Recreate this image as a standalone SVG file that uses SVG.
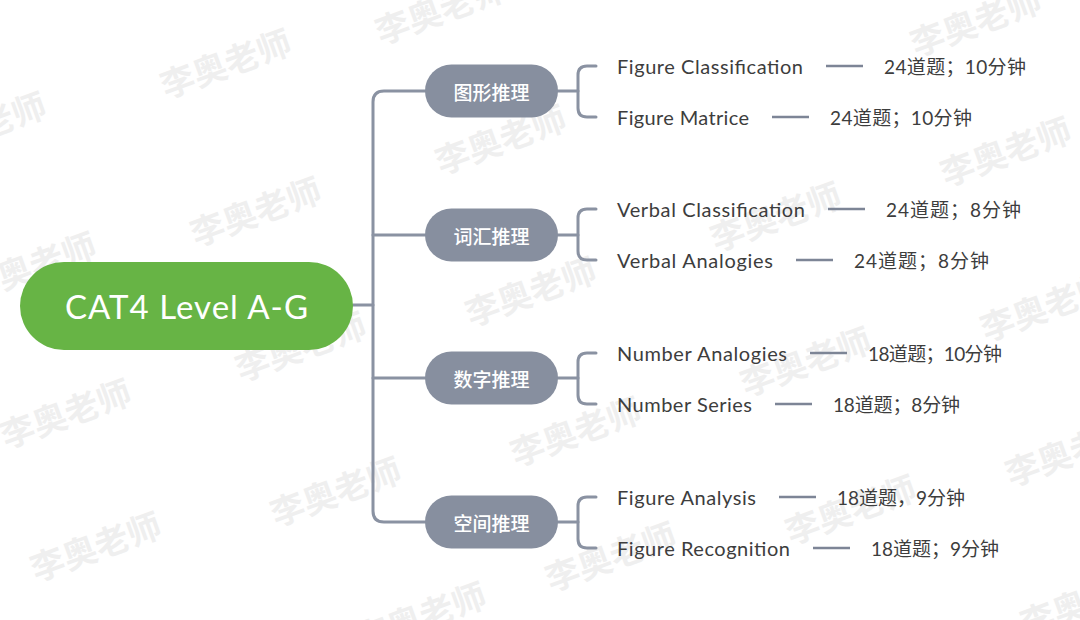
<svg xmlns="http://www.w3.org/2000/svg" width="1080" height="620" viewBox="0 0 1080 620">
<style>
.wm{font-family:"Noto Sans CJK SC",sans-serif;font-size:34px;font-weight:700;fill:#efefef;text-anchor:middle;dominant-baseline:central}
.root{fill:#67b445}
.roottxt{font-family:Lato,"Noto Sans",sans-serif;font-size:33px;fill:#ffffff;dominant-baseline:central}
.br{fill:#878f9f}
.brtxt{font-family:"Noto Sans CJK SC",sans-serif;font-size:19px;font-weight:500;fill:#ffffff;text-anchor:middle;dominant-baseline:central}
.conn{fill:none;stroke:#8a92a2;stroke-width:3;stroke-linecap:round;stroke-linejoin:round}
.dash{stroke:#7d8596;stroke-width:2.5}
.leaf{font-family:Lato,"Noto Sans",sans-serif;font-size:20px;fill:#3d3d3d;dominant-baseline:central}
.val{font-family:Lato,"Noto Sans CJK SC",sans-serif;font-size:19px;fill:#3d3d3d;dominant-baseline:central}
</style>
<rect width="1080" height="620" fill="#ffffff"/>
<g id="watermark">
<text class="wm" transform="translate(440,8) rotate(-20)">李奥老师</text>
<text class="wm" transform="translate(975,20) rotate(-20)">李奥老师</text>
<text class="wm" transform="translate(225,62) rotate(-20)">李奥老师</text>
<text class="wm" transform="translate(-20,125) rotate(-20)">李奥老师</text>
<text class="wm" transform="translate(500,138) rotate(-20)">李奥老师</text>
<text class="wm" transform="translate(1005,150) rotate(-20)">李奥老师</text>
<text class="wm" transform="translate(255,210) rotate(-20)">李奥老师</text>
<text class="wm" transform="translate(30,265) rotate(-20)">李奥老师</text>
<text class="wm" transform="translate(775,215) rotate(-20)">李奥老师</text>
<text class="wm" transform="translate(530,290) rotate(-20)">李奥老师</text>
<text class="wm" transform="translate(1045,305) rotate(-20)">李奥老师</text>
<text class="wm" transform="translate(300,345) rotate(-20)">李奥老师</text>
<text class="wm" transform="translate(65,412) rotate(-20)">李奥老师</text>
<text class="wm" transform="translate(805,360) rotate(-20)">李奥老师</text>
<text class="wm" transform="translate(575,430) rotate(-20)">李奥老师</text>
<text class="wm" transform="translate(1070,450) rotate(-20)">李奥老师</text>
<text class="wm" transform="translate(335,490) rotate(-20)">李奥老师</text>
<text class="wm" transform="translate(850,508) rotate(-20)">李奥老师</text>
<text class="wm" transform="translate(95,545) rotate(-20)">李奥老师</text>
<text class="wm" transform="translate(610,555) rotate(-20)">李奥老师</text>
<text class="wm" transform="translate(420,615) rotate(-20)">李奥老师</text>
<text class="wm" transform="translate(1085,600) rotate(-20)">李奥老师</text>
</g>
<g id="connectors">
<path class="conn" d="M353,305 H373"/>
<path class="conn" d="M425,91 H384 Q373,91 373,102 V511 Q373,522 384,522 H425"/>
<path class="conn" d="M373,235 H425"/>
<path class="conn" d="M373,378 H425"/>
<path class="conn" d="M558,91 H578"/>
<path class="conn" d="M596,66 H587 Q578,66 578,75 V108 Q578,117 587,117 H596"/>
<path class="conn" d="M558,235 H578"/>
<path class="conn" d="M596,209 H587 Q578,209 578,218 V251 Q578,260 587,260 H596"/>
<path class="conn" d="M558,378 H578"/>
<path class="conn" d="M596,353 H587 Q578,353 578,362 V395 Q578,404 587,404 H596"/>
<path class="conn" d="M558,522 H578"/>
<path class="conn" d="M596,497 H587 Q578,497 578,506 V539 Q578,548 587,548 H596"/>
</g>
<g id="root">
<rect class="root" x="20" y="262" width="333" height="88" rx="44"/>
<text class="roottxt" x="65" y="306" textLength="243" lengthAdjust="spacing">CAT4 Level A-G</text>
</g>
<g id="n1">
<rect class="br" x="425" y="64.5" width="133" height="53" rx="26.5"/>
<text class="brtxt" x="491.5" y="91">图形推理</text>
</g>
<g id="n2">
<rect class="br" x="425" y="208.5" width="133" height="53" rx="26.5"/>
<text class="brtxt" x="491.5" y="235">词汇推理</text>
</g>
<g id="n3">
<rect class="br" x="425" y="351.5" width="133" height="53" rx="26.5"/>
<text class="brtxt" x="491.5" y="378">数字推理</text>
</g>
<g id="n4">
<rect class="br" x="425" y="495.5" width="133" height="53" rx="26.5"/>
<text class="brtxt" x="491.5" y="522">空间推理</text>
</g>
<g id="l1"><text class="leaf" x="617" y="66" textLength="186" lengthAdjust="spacing">Figure Classification</text><line class="dash" x1="826" y1="66" x2="863" y2="66"/><text class="val" x="884" y="66" textLength="142" lengthAdjust="spacing">24道题；10分钟</text></g>
<g id="l2"><text class="leaf" x="617" y="117" textLength="132" lengthAdjust="spacing">Figure Matrice</text><line class="dash" x1="772" y1="117" x2="809" y2="117"/><text class="val" x="830" y="117" textLength="142" lengthAdjust="spacing">24道题；10分钟</text></g>
<g id="l3"><text class="leaf" x="617" y="209" textLength="188" lengthAdjust="spacing">Verbal Classification</text><line class="dash" x1="828" y1="209" x2="865" y2="209"/><text class="val" x="886" y="209" textLength="135" lengthAdjust="spacing">24道题；8分钟</text></g>
<g id="l4"><text class="leaf" x="617" y="260" textLength="156" lengthAdjust="spacing">Verbal Analogies</text><line class="dash" x1="796" y1="260" x2="833" y2="260"/><text class="val" x="854" y="260" textLength="135" lengthAdjust="spacing">24道题；8分钟</text></g>
<g id="l5"><text class="leaf" x="617" y="353" textLength="170" lengthAdjust="spacing">Number Analogies</text><line class="dash" x1="810" y1="353" x2="847" y2="353"/><text class="val" x="868" y="353" textLength="134" lengthAdjust="spacing">18道题；10分钟</text></g>
<g id="l6"><text class="leaf" x="617" y="404" textLength="135" lengthAdjust="spacing">Number Series</text><line class="dash" x1="775" y1="404" x2="812" y2="404"/><text class="val" x="833" y="404" textLength="127" lengthAdjust="spacing">18道题；8分钟</text></g>
<g id="l7"><text class="leaf" x="617" y="497" textLength="139" lengthAdjust="spacing">Figure Analysis</text><line class="dash" x1="779" y1="497" x2="816" y2="497"/><text class="val" x="837" y="497" textLength="128" lengthAdjust="spacing">18道题，9分钟</text></g>
<g id="l8"><text class="leaf" x="617" y="548" textLength="173" lengthAdjust="spacing">Figure Recognition</text><line class="dash" x1="813" y1="548" x2="850" y2="548"/><text class="val" x="871" y="548" textLength="128" lengthAdjust="spacing">18道题；9分钟</text></g>
</svg>
